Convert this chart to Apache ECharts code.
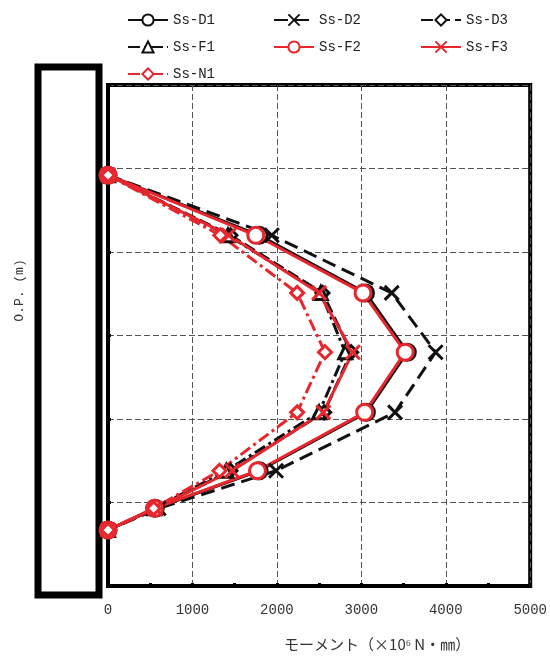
<!DOCTYPE html>
<html>
<head>
<meta charset="utf-8">
<script src="https://cdn.jsdelivr.net/npm/echarts@6/dist/echarts.min.js"></script>
<style>html,body{margin:0;padding:0;background:#fff;}#c{width:550px;height:659px;}</style>
</head>
<body>
<div id="c"></div>
<script>
// Depth levels (O.P., relative units, top to bottom)
const levels = [4.92, 4.20, 3.51, 2.80, 2.08, 1.38, 0.93, 0.67];
// Moment values (x10^6 N·mm)
const ssD1 = [0, 1790, 3050, 3545, 3060, 1790, 560, 0];
const ssD2 = [0, 1940, 3360, 3880, 3400, 1990, 600, 0];
const ssD3 = [0, 1450, 2540, 2880, 2560, 1450, 560, 0];
const ssF1 = [0, 1420, 2520, 2810, 2500, 1400, 550, 0];
const ssF2 = [0, 1750, 3020, 3520, 3040, 1770, 550, 0];
const ssF3 = [0, 1430, 2500, 2900, 2550, 1470, 560, 0];
const ssN1 = [0, 1330, 2240, 2570, 2240, 1320, 540, 0];
const names = ['Ss-D1','Ss-D2','Ss-D3','Ss-F1','Ss-F2','Ss-F3','Ss-N1'];
const xName = 'モーメント（×10⁶ N・㎜）';
const yName = 'O.P. (m)';

const X_PATH = 'path://M0,0L10,10M10,0L0,10';
function mk(name, vals, color, lineType, symbol, size) {
  return {
    name: name, type: 'line',
    data: levels.map((y, i) => [vals[i], y]),
    symbol: symbol, symbolSize: size,
    lineStyle: { color: color, width: 3, type: lineType },
    itemStyle: { color: symbol === X_PATH ? color : '#fff', borderColor: color, borderWidth: 3 },
    emphasis: { disabled: true },
    animation: false
  };
}
const BLACK = '#111', RED = '#e8262d';
const series = [
  mk(names[0], ssD1, BLACK, 'solid', 'circle', 16),
  mk(names[1], ssD2, BLACK, [14, 7], X_PATH, 14),
  mk(names[2], ssD3, BLACK, [12, 5], 'diamond', 13),
  mk(names[3], ssF1, BLACK, [12, 4, 3, 4], 'triangle', 13),
  mk(names[4], ssF2, RED, 'solid', 'circle', 16),
  mk(names[5], ssF3, RED, 'solid', X_PATH, 14),
  mk(names[6], ssN1, RED, [12, 4, 3, 4], 'diamond', 13)
];
const legTxt = { fontFamily: 'Liberation Mono', fontSize: 14, color: '#222' };
function leg(data, left) {
  return { data: data, orient: 'vertical', left: left, top: 8, itemWidth: 40, itemHeight: 14,
    itemGap: 13, textStyle: legTxt, selectedMode: false };
}
const chart = echarts.init(document.getElementById('c'));
chart.setOption({
  backgroundColor: '#fff',
  animation: false,
  legend: [leg([names[0], names[3], names[6]], 122), leg([names[1], names[4]], 268), leg([names[2], names[5]], 415)],
  graphic: [{ type: 'rect', shape: { x: 38, y: 67, width: 61, height: 528 },
    style: { fill: '#fff', stroke: '#000', lineWidth: 7 }, z: 0 }],
  grid: { left: 108, right: 17, top: 85, bottom: 73, show: true, borderColor: '#000', borderWidth: 4 },
  xAxis: {
    type: 'value', min: 0, max: 5000, interval: 1000,
    name: xName, nameLocation: 'middle', nameGap: 51,
    nameTextStyle: { fontFamily: 'Noto Sans CJK JP', fontSize: 15, color: '#333', padding: [0, 0, 0, 116] },
    axisLine: { show: true, lineStyle: { color: '#000', width: 4 } },
    axisTick: { show: true, inside: true, length: 3, lineStyle: { color: '#000', width: 3 } },
    minorTick: { show: true, splitNumber: 2, length: 3, lineStyle: { color: '#000', width: 3 } },
    axisLabel: { margin: 17, fontFamily: 'Liberation Mono', fontSize: 14, color: '#333',
      formatter: function (v) { return String(v); } },
    splitLine: { show: true, lineStyle: { color: '#555', width: 1, type: [6, 3] } }
  },
  yAxis: {
    type: 'value', min: 0, max: 6, interval: 1,
    name: yName, nameLocation: 'middle', nameGap: 82,
    nameTextStyle: { fontFamily: 'Liberation Mono', fontSize: 13, color: '#333', padding: [0, 0, 0, 90] },
    axisLine: { show: true, lineStyle: { color: '#000', width: 4 } },
    axisTick: { show: true, inside: true, length: 3, lineStyle: { color: '#000', width: 3 } },
    axisLabel: { show: false },
    splitLine: { show: true, lineStyle: { color: '#555', width: 1, type: [6, 3] } }
  },
  series: series
});
</script>
</body>
</html>
